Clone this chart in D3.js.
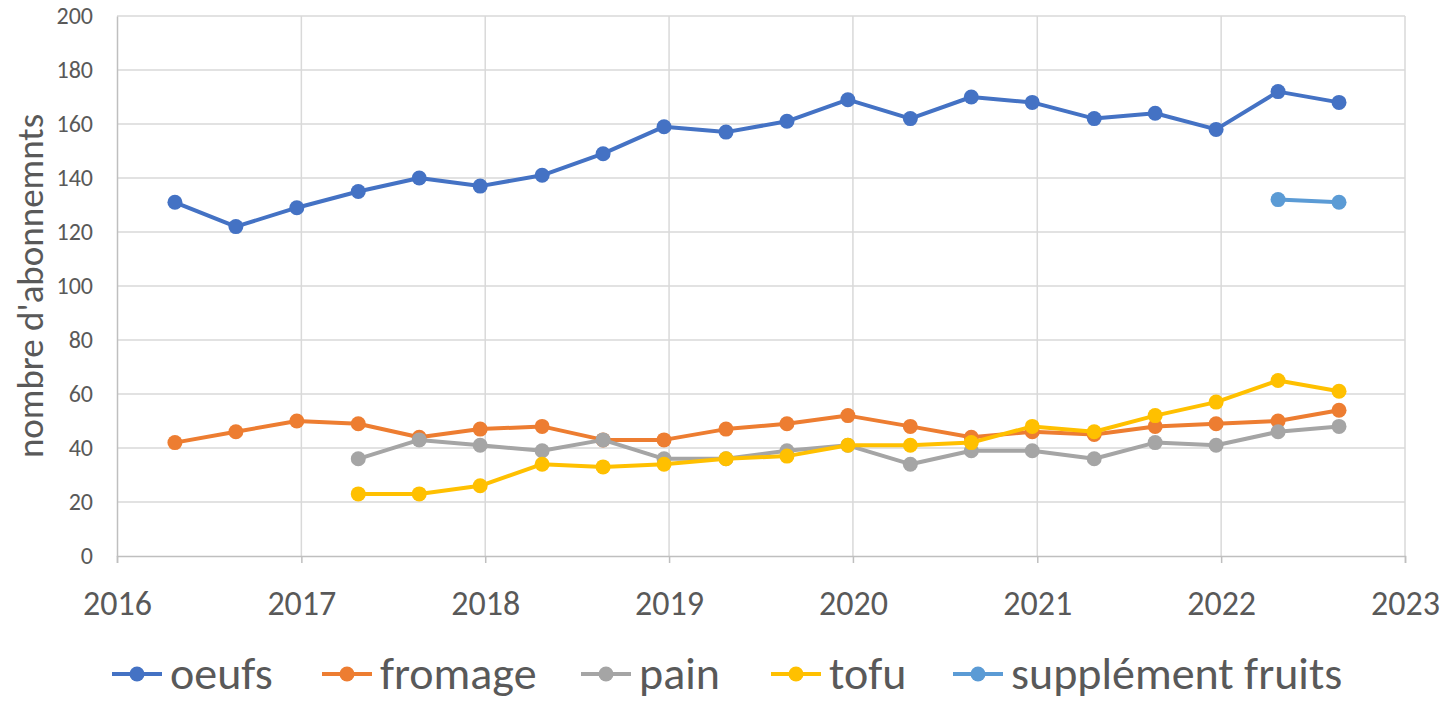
<!DOCTYPE html>
<html>
<head>
<meta charset="utf-8">
<script src="https://cdnjs.cloudflare.com/ajax/libs/d3/7.8.5/d3.min.js"></script>
<style>
    body { margin: 0; background: #fff; }
    svg text { font-family: Carlito, Calibri, Lato, sans-serif; fill: #595959; }
</style>
</head>
<body>
<div id="chart"></div>
<script>
// dates of each count (every 4 months)
var dates = [
    '2016-04-25', '2016-08-24', '2016-12-23',
    '2017-04-24', '2017-08-23', '2017-12-22',
    '2018-04-24', '2018-08-23', '2018-12-22',
    '2019-04-24', '2019-08-23', '2019-12-22',
    '2020-04-24', '2020-08-23', '2020-12-22',
    '2021-04-24', '2021-08-23', '2021-12-22',
    '2022-04-24', '2022-08-23'
];
var oeufs = [131, 122, 129, 135, 140, 137, 141, 149, 159, 157, 161, 169, 162, 170, 168, 162, 164, 158, 172, 168];
var fromage = [42, 46, 50, 49, 44, 47, 48, 43, 43, 47, 49, 52, 48, 44, 46, 45, 48, 49, 50, 54];
var pain = [null, null, null, 36, 43, 41, 39, 43, 36, 36, 39, 41, 34, 39, 39, 36, 42, 41, 46, 48];
var tofu = [null, null, null, 23, 23, 26, 34, 33, 34, 36, 37, 41, 41, 42, 48, 46, 52, 57, 65, 61];
var fruits = [null, null, null, null, null, null, null, null, null, null, null, null, null, null, null, null, null, null, 132, 131];

var seriesNames = ['oeufs', 'fromage', 'pain', 'tofu', 'supplément fruits'];
var seriesValues = [oeufs, fromage, pain, tofu, fruits];
var colors = ['#4472C4', '#ED7D31', '#A5A5A5', '#FFC000', '#5B9BD5'];
var yTicks = [0, 20, 40, 60, 80, 100, 120, 140, 160, 180, 200];
var xTicks = ['2016', '2017', '2018', '2019', '2020', '2021', '2022', '2023'];

var width = 1451,
    height = 702,
    margin = {left: 117, right: 46, top: 16, bottom: 146};

var parse = d3.timeParse('%Y-%m-%d'),
    parseYear = d3.timeParse('%Y');

var svg = d3.select('#chart').append('svg')
    .attr('width', width)
    .attr('height', height);

var x = d3.scaleTime()
    .domain([parseYear('2016'), parseYear('2023')])
    .range([margin.left, width - margin.right]);

var y = d3.scaleLinear()
    .domain([0, 200])
    .range([height - margin.bottom, margin.top]);

// grid
svg.append('g').selectAll('line.h')
    .data(yTicks.filter(function(d) { return d > 0; }))
    .enter().append('line')
    .attr('x1', margin.left)
    .attr('x2', width - margin.right)
    .attr('y1', function(d) { return y(d); })
    .attr('y2', function(d) { return y(d); })
    .attr('stroke', '#d9d9d9')
    .attr('stroke-width', 1.5);

svg.append('g').selectAll('line.v')
    .data(xTicks.slice(1))
    .enter().append('line')
    .attr('x1', function(d) { return x(parseYear(d)); })
    .attr('x2', function(d) { return x(parseYear(d)); })
    .attr('y1', margin.top)
    .attr('y2', height - margin.bottom)
    .attr('stroke', '#d9d9d9')
    .attr('stroke-width', 1.5);

// axes
var xAxis = svg.append('g')
    .attr('transform', 'translate(0,' + (height - margin.bottom) + ')')
    .call(d3.axisBottom(x)
        .tickValues(xTicks.map(function(d) { return parseYear(d); }))
        .tickFormat(d3.timeFormat('%Y'))
        .tickSize(7)
        .tickPadding(28));
xAxis.select('.domain').attr('stroke', '#bfbfbf').attr('stroke-width', 1.5);
xAxis.selectAll('.tick line').attr('stroke', '#bfbfbf').attr('stroke-width', 1.5);
xAxis.selectAll('.tick text').style('font-size', '34px').style('fill', '#595959');

var yAxis = svg.append('g')
    .attr('transform', 'translate(' + margin.left + ',0)')
    .call(d3.axisLeft(y)
        .tickValues(yTicks)
        .tickSize(0)
        .tickPadding(24));
yAxis.select('.domain').attr('stroke', '#bfbfbf').attr('stroke-width', 1.5);
yAxis.selectAll('.tick text').style('font-size', '24px').style('fill', '#595959');

svg.append('text')
    .attr('transform', 'translate(43,' + y(100) + ') rotate(-90)')
    .attr('text-anchor', 'middle')
    .style('font-size', '37px')
    .text("nombre d'abonnemnts");

// series
var line = d3.line()
    .defined(function(d) { return d.v !== null; })
    .x(function(d) { return x(d.date); })
    .y(function(d) { return y(d.v); });

seriesValues.forEach(function(values, i) {
    var pts = values.map(function(v, j) { return {date: parse(dates[j]), v: v}; });
    var g = svg.append('g').attr('class', 'series');
    g.append('path')
        .datum(pts)
        .attr('d', line)
        .attr('fill', 'none')
        .attr('stroke', colors[i])
        .attr('stroke-width', 4)
        .attr('stroke-linejoin', 'round');
    g.selectAll('circle')
        .data(pts.filter(function(d) { return d.v !== null; }))
        .enter().append('circle')
        .attr('cx', function(d) { return x(d.date); })
        .attr('cy', function(d) { return y(d.v); })
        .attr('r', 7.5)
        .attr('fill', colors[i]);
});

// legend
var legendX = [112, 322, 581, 771, 953];
var legend = svg.append('g').attr('transform', 'translate(0,674)');
seriesNames.forEach(function(name, i) {
    var item = legend.append('g').attr('transform', 'translate(' + legendX[i] + ',0)');
    item.append('line')
        .attr('x1', 0).attr('x2', 50)
        .attr('stroke', colors[i])
        .attr('stroke-width', 4);
    item.append('circle')
        .attr('cx', 25).attr('r', 7.5)
        .attr('fill', colors[i]);
    item.append('text')
        .attr('x', 58)
        .attr('dy', '0.33em')
        .style('font-size', '46px')
        .text(name);
});
</script>
</body>
</html>
